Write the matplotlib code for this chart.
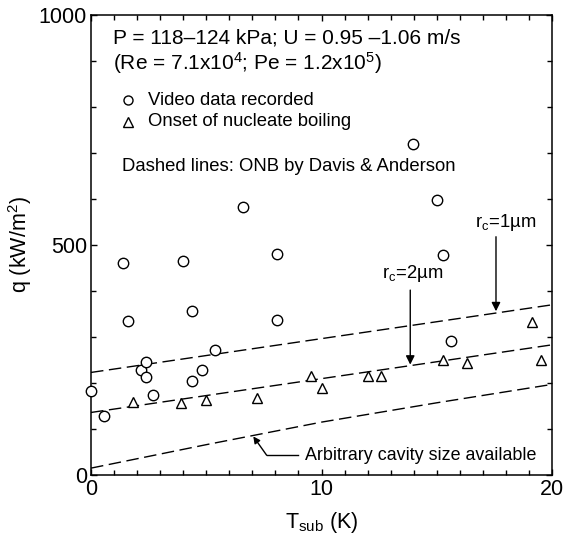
import numpy as np
import matplotlib
matplotlib.use('Agg')
import matplotlib.pyplot as plt
from matplotlib.ticker import MultipleLocator

plt.rcParams['font.family'] = ['Liberation Sans', 'DejaVu Sans']
plt.rcParams['mathtext.fontset'] = 'custom'
plt.rcParams['mathtext.rm'] = 'Liberation Sans'
plt.rcParams['mathtext.it'] = 'Liberation Sans:italic'
plt.rcParams['mathtext.bf'] = 'Liberation Sans:bold'

# video data recorded (circles)
video_T = [0.0, 0.58, 1.37, 1.59, 2.17, 2.39, 2.39, 2.68, 3.98, 4.39, 4.39, 4.80,
           5.38, 6.58, 8.08, 8.08, 13.99, 15.0, 15.28, 15.6]
video_q = [183, 128, 460, 335, 229, 246, 213, 175, 465, 356, 205, 229,
           271, 583, 480, 337, 719, 598, 478, 291]

# onset of nucleate boiling (triangles)
onb_T = [1.81, 3.90, 4.99, 7.22, 9.53, 10.01, 12.03, 12.58, 15.28, 16.3, 19.12, 19.52]
onb_q = [159, 156, 162, 168, 216, 190, 215, 215, 250, 243, 332, 251]

# Davis & Anderson ONB lines
line_T = [0, 20]
rc1_q = [223, 370]
rc2_q = [136, 283]
arb_T = [0, 5, 10, 15, 20]
arb_q = [15, 66, 115, 157, 197]

fig = plt.figure(figsize=(5.75, 5.44), dpi=100)
ax = fig.add_axes([0.1583, 0.1268, 0.8017, 0.8456])

dash = dict(color='k', lw=1.0, dashes=(9, 4))
ax.plot(line_T, rc1_q, **dash)
ax.plot(line_T, rc2_q, **dash)
ax.plot(arb_T, arb_q, **dash)

ax.plot(video_T, video_q, 'o', ms=7.5, mfc='white', mec='k', mew=1.0, clip_on=False, zorder=3)
ax.plot(onb_T, onb_q, '^', ms=7.5, mfc='white', mec='k', mew=1.0, clip_on=False, zorder=3)

ax.set_xlim(0, 20)
ax.set_ylim(0, 1000)
ax.xaxis.set_major_locator(MultipleLocator(10))
ax.xaxis.set_minor_locator(MultipleLocator(1))
ax.yaxis.set_major_locator(MultipleLocator(500))
ax.yaxis.set_minor_locator(MultipleLocator(100))
ax.tick_params(which='both', direction='in', top=True, right=True, width=1.0)
ax.tick_params(which='major', length=4.5, labelsize=15.5, pad=3)
ax.tick_params(which='minor', length=3.5)
for s in ax.spines.values():
    s.set_linewidth(1.1)

ax.set_xlabel('T$_\\mathrm{sub}$ (K)', fontsize=15.5, labelpad=7)
ax.set_ylabel('q (kW/m$^2$)', fontsize=15.5, labelpad=3)

# header and legend text
ax.text(0.97, 949, 'P = 118\u2013124 kPa; U = 0.95 \u20131.06 m/s', fontsize=15, va='center')
ax.text(0.97, 895, '(Re = 7.1x10$^4$; Pe = 1.2x10$^5$)', fontsize=15, va='center')
ax.plot([1.62], [815], 'o', ms=6.5, mfc='white', mec='k', mew=1.0)
ax.text(2.49, 815, 'Video data recorded', fontsize=13.3, va='center')
ax.plot([1.6], [768], '^', ms=6.5, mfc='white', mec='k', mew=1.0)
ax.text(2.49, 768, 'Onset of nucleate boiling', fontsize=13.3, va='center')
ax.text(1.33, 670, 'Dashed lines: ONB by Davis & Anderson', fontsize=13.3, va='center')

# arrows to the lines
arr = dict(arrowstyle='-|>', color='k', lw=1.0, mutation_scale=13, shrinkA=0, shrinkB=0)
ax.annotate('', xy=(17.57, 356), xytext=(17.57, 518), arrowprops=arr)
ax.text(18.0, 548, 'r$_\\mathrm{c}$=1\u00b5m', fontsize=13.3, ha='center', va='center')
ax.annotate('', xy=(13.85, 240), xytext=(13.85, 402), arrowprops=arr)
ax.text(13.97, 437, 'r$_\\mathrm{c}$=2\u00b5m', fontsize=13.3, ha='center', va='center')

ax.plot([9.0, 7.62], [43, 43], color='k', lw=1.0)
ax.annotate('', xy=(7.04, 84), xytext=(7.62, 43),
            arrowprops=dict(arrowstyle='-|>', color='k', lw=1.0, mutation_scale=10,
                            shrinkA=0, shrinkB=0))
ax.text(9.28, 43, 'Arbitrary cavity size available', fontsize=12.9, va='center')

fig.savefig('out.png', dpi=100)
